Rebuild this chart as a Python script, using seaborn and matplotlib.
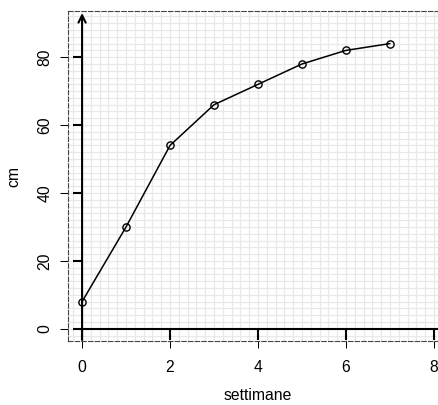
import matplotlib
matplotlib.use("Agg")
import matplotlib.pyplot as plt
from matplotlib.ticker import MultipleLocator
import seaborn as sns
import pandas as pd

# data
settimane = [0, 1, 2, 3, 4, 5, 6, 7]
cm = [8, 30, 54, 66, 72, 78, 82, 84]
xticks = [0, 2, 4, 6, 8]
yticks = [0, 20, 40, 60, 80]

sns.set_style("white")
plt.rcParams['font.family'] = ['Liberation Sans', 'DejaVu Sans']
plt.rcParams.update({'text.color': 'black', 'axes.labelcolor': 'black',
                     'xtick.color': 'black', 'ytick.color': 'black'})

W, H = 438, 405
fig = plt.figure(figsize=(W / 100, H / 100), dpi=100)
ax = fig.add_axes([68 / W, (H - 341) / H, 380 / W, 330 / H])
ax.set_xlim(-0.32, 8.32)
ax.set_ylim(-3.6, 93.6)

# fine grid
ax.xaxis.set_minor_locator(MultipleLocator(0.2))
ax.yaxis.set_minor_locator(MultipleLocator(2))
ax.set_xticks(xticks)
ax.set_yticks(yticks)
ax.grid(which='both', color='#e8e8e8', lw=0.9, zorder=0)
ax.set_axisbelow(True)

for s in ax.spines.values():
    s.set_linestyle((0, (4, 2)))
    s.set_color('#444444')
    s.set_linewidth(0.8)

ax.tick_params(axis='both', which='minor', length=0)
ax.tick_params(axis='y', which='major', length=5.8, width=0.75, direction='out',
               labelsize=11.3, pad=5.5, left=True, color='black', labelcolor='black')
ax.tick_params(axis='x', which='major', length=5.0, width=0.75, direction='out',
               labelsize=11.3, pad=9, bottom=True, color='black', labelcolor='black')
for lab in ax.get_yticklabels():
    lab.set_rotation(90)
    lab.set_va('center')

# axes through origin
ax.hlines(0, -0.2, 8.5, color='black', lw=1.5, zorder=3)
ax.annotate('', xy=(0, 93.0), xytext=(0, -3.3),
            arrowprops=dict(arrowstyle='->', lw=1.5, color='black',
                            shrinkA=0, shrinkB=0, mutation_scale=13), zorder=3)
for t in yticks[1:]:
    ax.plot([-0.2, 0], [t, t], color='black', lw=1.5, zorder=3, solid_capstyle='butt')
for t in xticks:
    ax.plot([t, t], [0, -3.3], color='black', lw=1.5, zorder=3, solid_capstyle='butt')

df = pd.DataFrame({'settimane': settimane, 'cm': cm})
sns.lineplot(data=df, x='settimane', y='cm', ax=ax, color='black', lw=1.1,
             marker='o', markersize=5.2, markerfacecolor='none',
             markeredgecolor='black', markeredgewidth=1.0, zorder=4)

ax.set_xlabel('settimane', fontsize=11.3, color='black')
ax.set_ylabel('cm', fontsize=11.3, color='black')
ax.xaxis.set_label_coords((258 - 68) / 380, -(395 - 341) / 330)
ax.yaxis.set_label_coords((14 - 68) / 380, (341 - 176) / 330)
ax.xaxis.label.set_va('center')
ax.yaxis.label.set_va('center')

fig.savefig('out.png', dpi=100)
